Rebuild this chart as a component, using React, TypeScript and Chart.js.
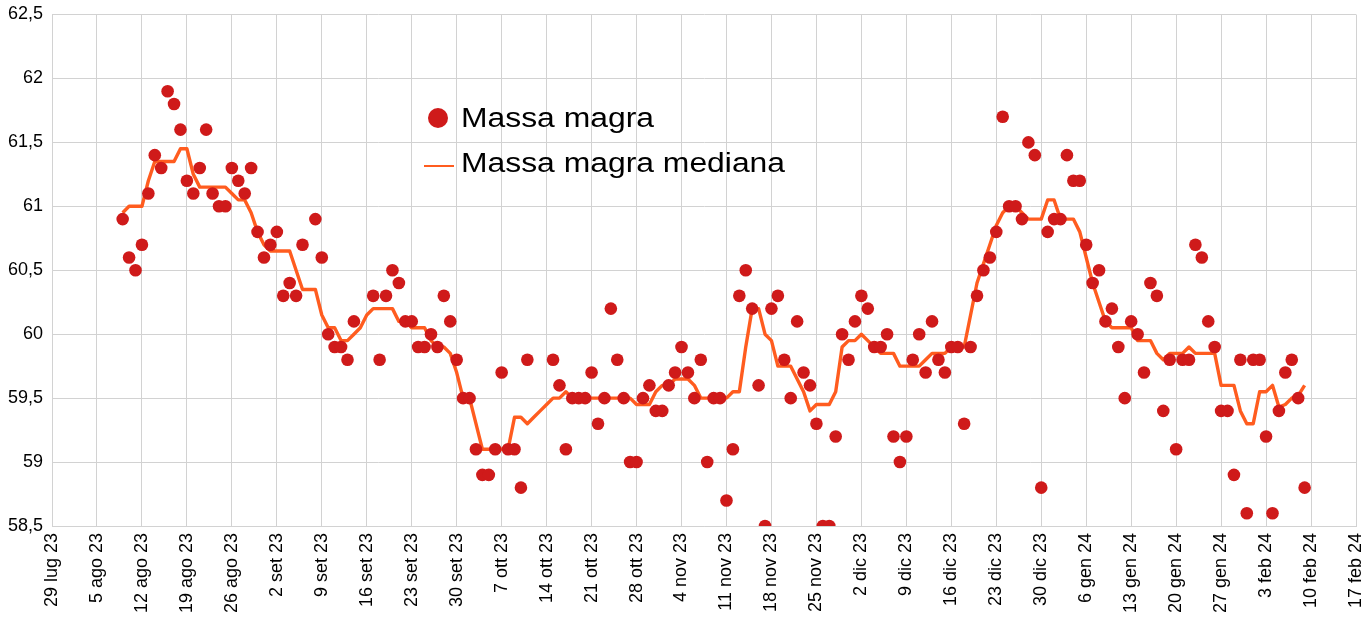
import React, { useEffect, useRef } from 'react';
import { Chart, registerables } from 'chart.js';

Chart.register(...registerables);

// x values are days counted from 29 lug 23 (first tick)
const firstDay = 11;

const tickLabels = [
  '29 lug 23', '5 ago 23', '12 ago 23', '19 ago 23', '26 ago 23', '2 set 23', '9 set 23',
  '16 set 23', '23 set 23', '30 set 23', '7 ott 23', '14 ott 23', '21 ott 23', '28 ott 23',
  '4 nov 23', '11 nov 23', '18 nov 23', '25 nov 23', '2 dic 23', '9 dic 23', '16 dic 23',
  '23 dic 23', '30 dic 23', '6 gen 24', '13 gen 24', '20 gen 24', '27 gen 24', '3 feb 24',
  '10 feb 24', '17 feb 24',
];

// Massa magra, one value per day from day 11 (9 ago 23) to day 195
const massaMagra: (number | null)[] = [
  60.9, 60.6, 60.5, 60.7, 61.1, 61.4, 61.3, 61.9, 61.8, 61.6,
  61.2, 61.1, 61.3, 61.6, 61.1, 61.0, 61.0, 61.3, 61.2, 61.1,
  61.3, 60.8, 60.6, 60.7, 60.8, 60.3, 60.4, 60.3, 60.7, null,
  60.9, 60.6, 60.0, 59.9, 59.9, 59.8, 60.1, null, null, 60.3,
  59.8, 60.3, 60.5, 60.4, 60.1, 60.1, 59.9, 59.9, 60.0, 59.9,
  60.3, 60.1, 59.8, 59.5, 59.5, 59.1, 58.9, 58.9, 59.1, 59.7,
  59.1, 59.1, 58.8, 59.8, null, null, null, 59.8, 59.6, 59.1,
  59.5, 59.5, 59.5, 59.7, 59.3, 59.5, 60.2, 59.8, 59.5, 59.0,
  59.0, 59.5, 59.6, 59.4, 59.4, 59.6, 59.7, 59.9, 59.7, 59.5,
  59.8, 59.0, 59.5, 59.5, 58.7, 59.1, 60.3, 60.5, 60.2, 59.6,
  58.5, 60.2, 60.3, 59.8, 59.5, 60.1, 59.7, 59.6, 59.3, 58.5,
  58.5, 59.2, 60.0, 59.8, 60.1, 60.3, 60.2, 59.9, 59.9, 60.0,
  59.2, 59.0, 59.2, 59.8, 60.0, 59.7, 60.1, 59.8, 59.7, 59.9,
  59.9, 59.3, 59.9, 60.3, 60.5, 60.6, 60.8, 61.7, 61.0, 61.0,
  60.9, 61.5, 61.4, 58.8, 60.8, 60.9, 60.9, 61.4, 61.2, 61.2,
  60.7, 60.4, 60.5, 60.1, 60.2, 59.9, 59.5, 60.1, 60.0, 59.7,
  60.4, 60.3, 59.4, 59.8, 59.1, 59.8, 59.8, 60.7, 60.6, 60.1,
  59.9, 59.4, 59.4, 58.9, 59.8, 58.6, 59.8, 59.8, 59.2, 58.6,
  59.4, 59.7, 59.8, 59.5, 58.8,
];

// Massa magra mediana, same days
const massaMagraMediana: number[] = [
  60.95, 61.0, 61.0, 61.0, 61.2, 61.35, 61.35, 61.35, 61.35, 61.45,
  61.45, 61.25, 61.15, 61.15, 61.15, 61.15, 61.15, 61.1, 61.05, 61.05,
  60.95, 60.8, 60.7, 60.65, 60.65, 60.65, 60.65, 60.5, 60.35, 60.35,
  60.35, 60.15, 60.05, 60.05, 59.95, 59.95, 60.0, 60.05, 60.15, 60.2,
  60.2, 60.2, 60.2, 60.1, 60.1, 60.05, 60.05, 60.05, 59.95, 59.9,
  59.9, 59.85, 59.7, 59.5, 59.5, 59.3, 59.1, 59.1, 59.1, 59.1,
  59.1, 59.35, 59.35, 59.3, 59.35, 59.4, 59.45, 59.5, 59.5, 59.55,
  59.5, 59.5, 59.5, 59.5, 59.5, 59.5, 59.5, 59.5, 59.5, 59.5,
  59.45, 59.45, 59.45, 59.55, 59.6, 59.6, 59.65, 59.65, 59.65, 59.6,
  59.5, 59.5, 59.5, 59.5, 59.5, 59.55, 59.55, 59.9, 60.2, 60.2,
  60.0, 59.95, 59.75, 59.75, 59.75, 59.65, 59.55, 59.4, 59.45, 59.45,
  59.45, 59.55, 59.9, 59.95, 59.95, 60.0, 59.95, 59.9, 59.85, 59.85,
  59.85, 59.75, 59.75, 59.75, 59.75, 59.8, 59.85, 59.85, 59.85, 59.9,
  59.9, 59.9, 60.15, 60.4, 60.55, 60.7, 60.85, 60.95, 61.0, 61.0,
  60.95, 60.9, 60.9, 60.9, 61.05, 61.05, 60.9, 60.9, 60.9, 60.8,
  60.6, 60.4, 60.25, 60.1, 60.05, 60.05, 60.05, 60.05, 59.95, 59.95,
  59.95, 59.85, 59.8, 59.85, 59.85, 59.85, 59.9, 59.85, 59.85, 59.85,
  59.85, 59.6, 59.6, 59.6, 59.4, 59.3, 59.3, 59.55, 59.55, 59.6,
  59.43, 59.45, 59.5, 59.52, 59.6,
];

const seriesNames = ['Massa magra', 'Massa magra mediana'];

const pointColor = '#cf1a1a';
const lineColor = '#ff5c1f';
const gridColor = '#d2d2d2';
const fontFamily = '"Liberation Sans", Arial, sans-serif';

// the original legend text is a bit wider than Arial, stretch it a little
const drawWideText = (ctx: CanvasRenderingContext2D, text: string, x: number, y: number) => {
  ctx.save();
  ctx.translate(x, y);
  ctx.scale(1.18, 1);
  ctx.fillText(text, 0, 0);
  ctx.restore();
};

// legend drawn inside the plot, like the original
const legendPlugin = {
  id: 'insideLegend',
  afterDraw(chart: Chart) {
    const ctx = chart.ctx;
    ctx.save();
    ctx.font = `27px ${fontFamily}`;
    ctx.textBaseline = 'middle';
    ctx.textAlign = 'left';

    ctx.beginPath();
    ctx.arc(438, 118, 10, 0, Math.PI * 2);
    ctx.fillStyle = pointColor;
    ctx.fill();
    ctx.fillStyle = '#000';
    drawWideText(ctx, seriesNames[0], 461, 120);

    ctx.beginPath();
    ctx.moveTo(424, 166);
    ctx.lineTo(454, 166);
    ctx.strokeStyle = lineColor;
    ctx.lineWidth = 2;
    ctx.stroke();
    drawWideText(ctx, seriesNames[1], 461, 165);
    ctx.restore();
  },
};

const formatY = (v: number) => {
  const s = Number(v).toFixed(1);
  return s.endsWith('.0') ? s.slice(0, -2) : s.replace('.', ',');
};

const App: React.FC = () => {
  const chartRef = useRef<HTMLCanvasElement>(null);
  const chartInstance = useRef<Chart | null>(null);

  useEffect(() => {
    if (!chartRef.current) return;
    if (chartInstance.current) chartInstance.current.destroy();

    const points = massaMagra.map((v, i) => ({ x: firstDay + i, y: v }));
    const median = massaMagraMediana.map((v, i) => ({ x: firstDay + i, y: v }));

    chartInstance.current = new Chart(chartRef.current, {
      type: 'scatter',
      data: {
        datasets: [
          {
            label: seriesNames[0],
            data: points as any,
            backgroundColor: pointColor,
            borderColor: pointColor,
            borderWidth: 0,
            pointRadius: 6.3,
            showLine: false,
          },
          {
            label: seriesNames[1],
            data: median as any,
            type: 'line',
            borderColor: lineColor,
            borderWidth: 3.4,
            pointRadius: 0,
            fill: false,
            tension: 0,
            borderJoinStyle: 'round',
          },
        ],
      },
      options: {
        animation: false,
        responsive: true,
        maintainAspectRatio: false,
        layout: { padding: { left: 0, right: 16, top: 14.5, bottom: 0 } },
        plugins: {
          legend: { display: false },
          tooltip: { enabled: false },
        },
        scales: {
          x: {
            type: 'linear',
            min: 0,
            max: 203,
            border: { color: gridColor },
            grid: { color: gridColor, drawTicks: false, lineWidth: 1 },
            ticks: {
              stepSize: 7,
              autoSkip: false,
              minRotation: 90,
              maxRotation: 90,
              padding: 7,
              color: '#000',
              font: { family: fontFamily, size: 18 },
              callback: (value: any) => tickLabels[Math.round(Number(value) / 7)] ?? '',
            },
            afterFit: (scale: any) => {
              scale.height = 100;
              scale.paddingLeft = 0;
              scale.paddingRight = 0;
            },
          },
          y: {
            min: 58.5,
            max: 62.5,
            border: { color: gridColor },
            grid: { color: gridColor, drawTicks: false, lineWidth: 1 },
            ticks: {
              stepSize: 0.5,
              padding: 9,
              color: '#000',
              font: { family: fontFamily, size: 18 },
              callback: (value: any) => formatY(value),
            },
            afterFit: (scale: any) => {
              scale.width = 52;
              scale.paddingTop = 0;
              scale.paddingBottom = 0;
            },
          },
        },
      },
      plugins: [legendPlugin],
    });

    return () => {
      if (chartInstance.current) {
        chartInstance.current.destroy();
        chartInstance.current = null;
      }
    };
  }, []);

  return (
    <div style={{ position: 'fixed', left: 0, top: 0, width: 1372, height: 626, background: '#fff' }}>
      <canvas ref={chartRef}></canvas>
    </div>
  );
};

export default App;
